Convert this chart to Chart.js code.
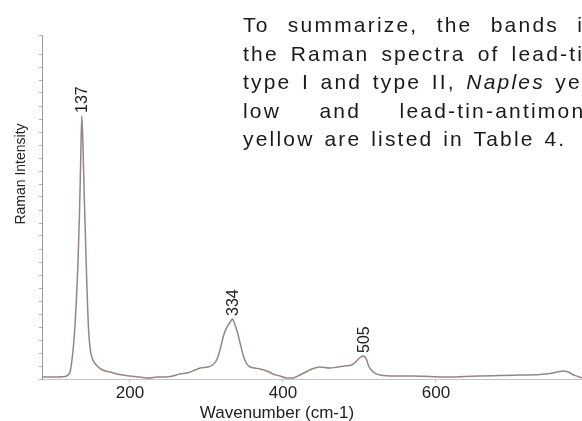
<!DOCTYPE html>
<html>
<head>
<meta charset="utf-8">
<script src="https://cdn.jsdelivr.net/npm/chart.js@4"></script>
<style>
  html, body { margin: 0; padding: 0; background: #fff; }
  body { width: 582px; height: 421px; overflow: hidden; position: relative; }
  #chart { position: absolute; left: 0; top: 0; }
  #para {
    position: absolute; left: 243px; top: 11px; width: 355px;
    font-family: "Liberation Sans", Arial, sans-serif; font-size: 21px;
    letter-spacing: 2.2px; word-spacing: 1.8px; line-height: 28.5px; color: #1a1a1a;
  }
  #para div { white-space: nowrap; text-align: justify; text-align-last: justify; }
  #para div.last { text-align: left; text-align-last: left; }
</style>
</head>
<body>
<canvas id="chart" width="582" height="421"></canvas>
<div id="para">
  <div>To summarize, the bands in</div>
  <div>the Raman spectra of lead-tin</div>
  <div>type I and type II, <i>Naples</i> yel-</div>
  <div>low and lead-tin-antimony</div>
  <div class="last">yellow are listed in Table 4.</div>
</div>
<script>
// spectrum (intensity in arbitrary units)
const wavenumbers = [85, 100, 115, 119, 122, 124, 126, 128, 130, 132, 134, 135.5, 137, 138.5, 140, 141.5, 143, 144.5, 146, 148, 151, 156, 164, 174, 183, 200, 217, 226, 235, 246, 256, 265, 275, 285, 292, 302, 308, 314, 318, 323, 327, 331, 334, 336, 340, 344, 348, 352, 357, 363, 370, 379, 387, 396, 405, 413, 422, 430, 438, 448, 461, 472, 481, 490, 495, 500, 505, 509, 512, 518, 527, 546, 570, 592, 614, 638, 657, 684, 710, 736, 749, 758, 766, 773, 780, 788, 791];
const intensities = [2, 2, 2.5, 4, 8, 18, 32, 52, 80, 115, 165, 215, 263, 235, 190, 150, 110, 75, 48, 30, 20, 14, 9, 7, 5, 3, 1.5, 1, 2, 2, 3, 5, 6, 9, 11, 12, 14, 20, 30, 45, 52, 57, 60, 57, 48, 36, 24, 16, 12, 11, 10, 8, 5, 3, 1, 1, 4, 7, 10, 12, 11, 12, 13, 14, 17, 21, 23, 20, 13, 7, 4, 3, 3, 2.5, 2, 2.5, 3, 3.5, 4, 4.5, 5.5, 7, 8, 7, 4, 2, 1];

const peakPositions = [137, 334, 505];
const peakLabels = ["137", "334", "505"];
const xTickValues = [200, 400, 600];
const xTitle = "Wavenumber (cm-1)";
const yTitle = "Raman Intensity";

const fontFamily = "'Liberation Sans', Arial, sans-serif";

const labelPlugin = {
  id: "ramanLabels",
  afterDraw(chart) {
    const ctx = chart.ctx;
    const xs = chart.scales.x;
    const ys = chart.scales.y;
    ctx.save();
    ctx.fillStyle = "#222";
    ctx.textBaseline = "middle";

    // peak labels, rotated, sitting just above each peak
    ctx.font = "16px " + fontFamily;
    ctx.textAlign = "left";
    peakPositions.forEach((pos, i) => {
      let best = 0;
      wavenumbers.forEach((w, j) => {
        if (Math.abs(w - pos) < Math.abs(wavenumbers[best] - pos)) best = j;
      });
      const px = xs.getPixelForValue(pos) + 1;
      const py = ys.getPixelForValue(intensities[best]) - 3;
      ctx.save();
      ctx.translate(px, py);
      ctx.rotate(-Math.PI / 2);
      ctx.fillText(peakLabels[i], 0, 0);
      ctx.restore();
    });

    // axis titles
    ctx.textAlign = "center";
    ctx.font = "17px " + fontFamily;
    ctx.fillText(xTitle, chart.chartArea.left + 235, 413);

    ctx.font = "14px " + fontFamily;
    ctx.save();
    ctx.translate(21, 174);
    ctx.rotate(-Math.PI / 2);
    ctx.fillText(yTitle, 0, 0);
    ctx.restore();
    ctx.restore();
  },
};

new Chart(document.getElementById("chart").getContext("2d"), {
  type: "line",
  data: {
    datasets: [
      {
        data: wavenumbers.map((w, i) => ({ x: w, y: intensities[i] })),
        borderColor: "rgb(148, 134, 130)",
        borderWidth: 1.5,
        pointRadius: 0,
        fill: false,
        cubicInterpolationMode: "monotone",
      },
    ],
  },
  options: {
    responsive: false,
    animation: false,
    layout: { padding: { top: 35, left: 0, right: 0, bottom: 0 } },
    plugins: { legend: { display: false }, tooltip: { enabled: false } },
    scales: {
      x: {
        type: "linear",
        min: 85,
        max: 791,
        afterBuildTicks: (s) => {
          s.ticks = xTickValues.map((v) => ({ value: v }));
        },
        afterFit: (s) => {
          s.height = 42;
        },
        border: { color: "#c4c4c4", width: 1 },
        grid: { drawOnChartArea: false, tickLength: 3, color: "#c4c4c4" },
        ticks: {
          padding: 1,
          color: "#222",
          font: { size: 17, family: fontFamily },
          maxRotation: 0,
        },
      },
      y: {
        min: 0,
        max: 344,
        afterFit: (s) => {
          s.width = 42;
        },
        border: { color: "#9a9a9a", width: 1, dash: [2, 2] },
        grid: { drawOnChartArea: false, tickLength: 3, color: "#b0b0b0" },
        ticks: { display: false, stepSize: 13 },
      },
    },
  },
  plugins: [labelPlugin],
});
</script>
</body>
</html>
